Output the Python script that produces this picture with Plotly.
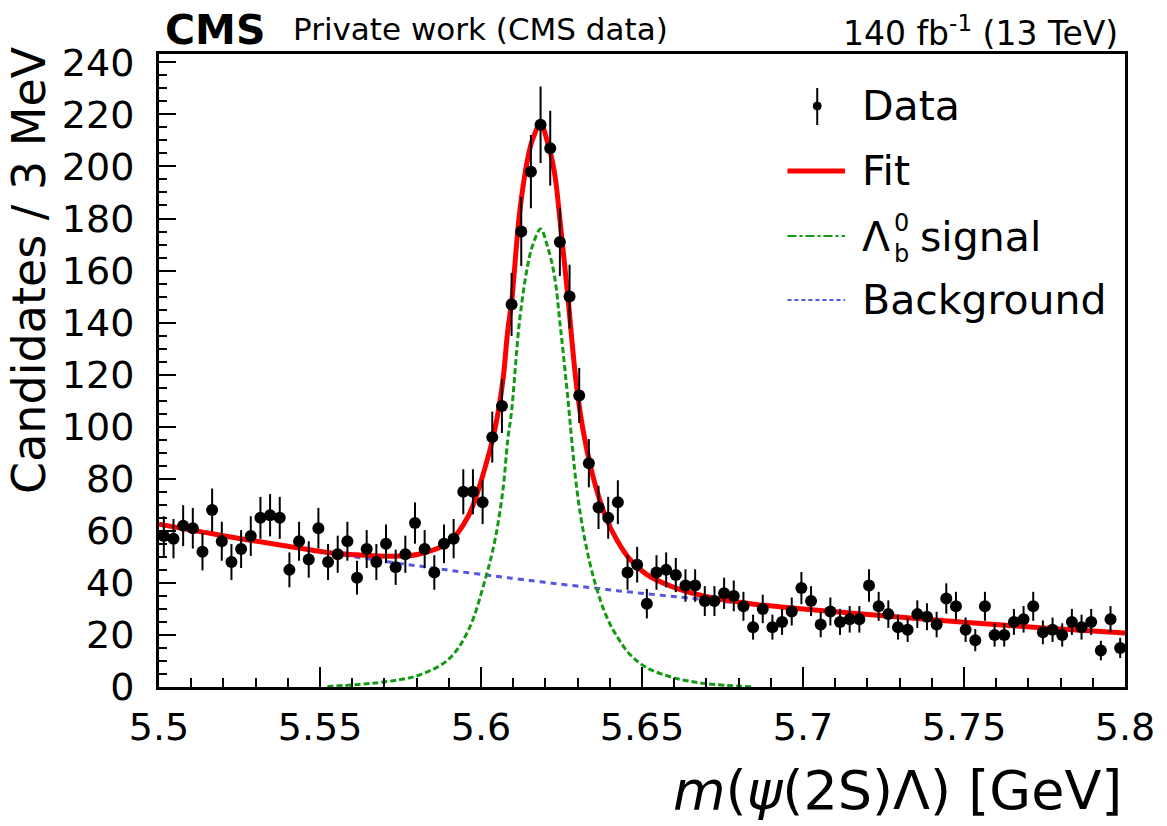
import numpy as np
import plotly.graph_objects as go

# ---- binned data: candidates per 3 MeV bin, m(psi(2S) Lambda) from 5.5 to 5.8 GeV
mass_lo, mass_hi, bin_width = 5.5, 5.8, 0.003
counts = [
    58, 57, 62, 61, 52, 68, 56, 48, 53, 58, 65, 66, 65, 45, 56, 49, 61, 48, 51, 56, 42, 53, 48, 55, 46,
    51, 63, 53, 44, 55, 57, 75, 75, 71, 96, 108, 147, 175, 198, 216, 207, 171, 150, 112, 86, 69, 65, 71, 44, 47,
    32, 44, 45, 43, 39, 39, 33, 33, 36, 35, 31, 23, 30, 23, 25, 29, 38, 33, 24, 29, 25, 26, 26, 39, 31,
    28, 23, 22, 28, 27, 24, 34, 31, 22, 18, 31, 20, 20, 25, 26, 31, 21, 22, 20, 25, 23, 25, 14, 26, 15,
]

# ---- fit components sampled along the mass axis
curve_mass = [
    5.500, 5.520, 5.540, 5.5523, 5.5612, 5.5683, 5.5745, 5.5806, 5.5898, 5.5960,
    5.6012, 5.6043, 5.6068, 5.6083, 5.6095, 5.6120, 5.6145, 5.6160, 5.6185, 5.6206,
    5.6228, 5.6246, 5.6268, 5.6298, 5.6323, 5.6354, 5.6390, 5.6422, 5.6462, 5.6514,
    5.6597, 5.6698, 5.6843, 5.700, 5.725, 5.750, 5.775, 5.800,
]
signal = [
    0.0, 0.0, 0.1, 0.2, 0.9, 1.7, 2.8, 4.5, 10.5, 21.6,
    40.9, 56.3, 75.6, 94.9, 106.0, 141.0, 162.0, 169.5, 176.0, 169.5,
    158.0, 139.0, 113.0, 75.6, 56.3, 40.0, 27.0, 19.5, 12.6, 7.5,
    3.6, 1.3, 0.1, 0.0, 0.0, 0.0, 0.0, 0.0,
]
background = [
    62.5, 58.1, 54.0, 51.5, 49.9, 48.6, 47.5, 46.5, 44.9, 43.9,
    43.1, 42.6, 42.2, 42.0, 41.8, 41.4, 41.0, 40.8, 40.4, 40.1,
    39.8, 39.5, 39.2, 38.8, 38.4, 38.0, 37.5, 37.0, 36.5, 35.8,
    34.8, 33.5, 31.8, 30.0, 27.4, 24.9, 22.7, 20.7,
]
signal_drawn = (3, 33)  # index range where the signal shape is drawn

x_tick_vals = [5.5, 5.55, 5.6, 5.65, 5.7, 5.75, 5.8]
x_tick_text = ["5.5", "5.55", "5.6", "5.65", "5.7", "5.75", "5.8"]
y_tick_vals = list(range(0, 241, 20))
y_tick_text = [str(v) for v in y_tick_vals]

# ---- derived arrays
counts_arr = np.array(counts, dtype=float)
centers = mass_lo + bin_width * (np.arange(len(counts)) + 0.5)
errors = np.sqrt(counts_arr)
fit = np.array(background) + np.array(signal)

FONT = "DejaVu Sans"
RED, GREEN, BLUE = "#ff0000", "#139a13", "#5555e6"

fig = go.Figure()
fig.add_trace(go.Scatter(
    x=curve_mass, y=background, mode="lines", line_shape="spline",
    line=dict(color=BLUE, width=3, dash="6px,5px"), hoverinfo="skip"))
lo, hi = signal_drawn
fig.add_trace(go.Scatter(
    x=curve_mass[lo:hi], y=signal[lo:hi], mode="lines", line_shape="spline",
    line=dict(color=GREEN, width=3, dash="6px,3px"), hoverinfo="skip"))
fig.add_trace(go.Scatter(
    x=curve_mass, y=fit, mode="lines", line_shape="spline",
    line=dict(color=RED, width=5), hoverinfo="skip"))
fig.add_trace(go.Scatter(
    x=centers, y=counts_arr, mode="markers",
    marker=dict(color="black", size=12, symbol="circle"),
    error_y=dict(type="data", array=errors, visible=True, color="black", thickness=2, width=0)))

# ---- plot geometry in pixels (for placing the legend and labels in paper units)
W, H = 1167, 826
L, R, T, B = 159, 35, 54, 139
pw, ph = W - L - R, H - T - B


def px(x):
    return (x - L) / pw


def py(y):
    return (H - B - y) / ph


shapes = []
annotations = []


def label(text, x, y, size, xanchor="left", yanchor="middle", **kw):
    annotations.append(dict(text=text, xref="paper", yref="paper", x=px(x), y=py(y),
                            xanchor=xanchor, yanchor=yanchor, showarrow=False,
                            font=dict(family=FONT, size=size, color="black"), **kw))


# legend block
sym_x0, sym_x1, text_x = 792, 850, 865
shapes.append(dict(type="line", xref="paper", yref="paper", x0=px(822), x1=px(822), y0=py(88), y1=py(125),
                   line=dict(color="black", width=2)))
shapes.append(dict(type="circle", xref="paper", yref="paper", x0=px(818), x1=px(826), y0=py(102), y1=py(110),
                   fillcolor="black", line=dict(color="black", width=1)))
shapes.append(dict(type="line", xref="paper", yref="paper", x0=px(sym_x0), x1=px(sym_x1), y0=py(171), y1=py(171),
                   line=dict(color=RED, width=5)))
shapes.append(dict(type="line", xref="paper", yref="paper", x0=px(sym_x0), x1=px(sym_x1), y0=py(236), y1=py(236),
                   line=dict(color=GREEN, width=2, dash="dashdot")))
shapes.append(dict(type="line", xref="paper", yref="paper", x0=px(sym_x0), x1=px(sym_x1), y0=py(300), y1=py(300),
                   line=dict(color=BLUE, width=2, dash="4px,3px")))
label("Data", text_x, 106, 41)
label("Fit", text_x, 171, 41)
label("Λ", text_x, 237, 41)
label("0<br>b", 897, 238, 24, align="left")
label("signal", 924, 237, 41)
label("Background", text_x, 300, 41)

# header
label("<b>CMS</b>", 163, 30, 41)
label("Private work (CMS data)", 292, 29, 31)
label("140 fb<sup>-1</sup> (13 TeV)", 1127, 31, 33, xanchor="right")

# axis titles
label("Candidates / 3 MeV", 28, 270, 46, xanchor="center", textangle=-90)
label("<i>m</i>(<i>ψ</i>(2S)Λ) [GeV]", 1131, 790, 54, xanchor="right")

axis_common = dict(showline=True, linecolor="black", linewidth=3, mirror=True, ticks="inside",
                   tickcolor="black", tickwidth=2, showgrid=False, zeroline=False,
                   tickfont=dict(family=FONT, size=38, color="black"))

fig.update_layout(
    width=W, height=H, margin=dict(l=L, r=R, t=T, b=B, pad=0),
    paper_bgcolor="white", plot_bgcolor="white", showlegend=False,
    shapes=shapes, annotations=annotations,
    xaxis=dict(range=[mass_lo, mass_hi], tickvals=x_tick_vals, ticktext=x_tick_text, ticklen=20,
               ticklabelstandoff=4,
               minor=dict(ticks="inside", ticklen=9, tickwidth=2, tickcolor="black", dtick=0.01, tick0=5.5,
                          showgrid=False),
               **axis_common),
    yaxis=dict(range=[0, 243.2], tickvals=y_tick_vals, ticktext=y_tick_text, ticklen=17,
               ticklabelstandoff=14,
               minor=dict(ticks="inside", ticklen=8, tickwidth=2, tickcolor="black", dtick=5, tick0=0,
                          showgrid=False),
               **axis_common),
)

fig.write_html("out.html")
